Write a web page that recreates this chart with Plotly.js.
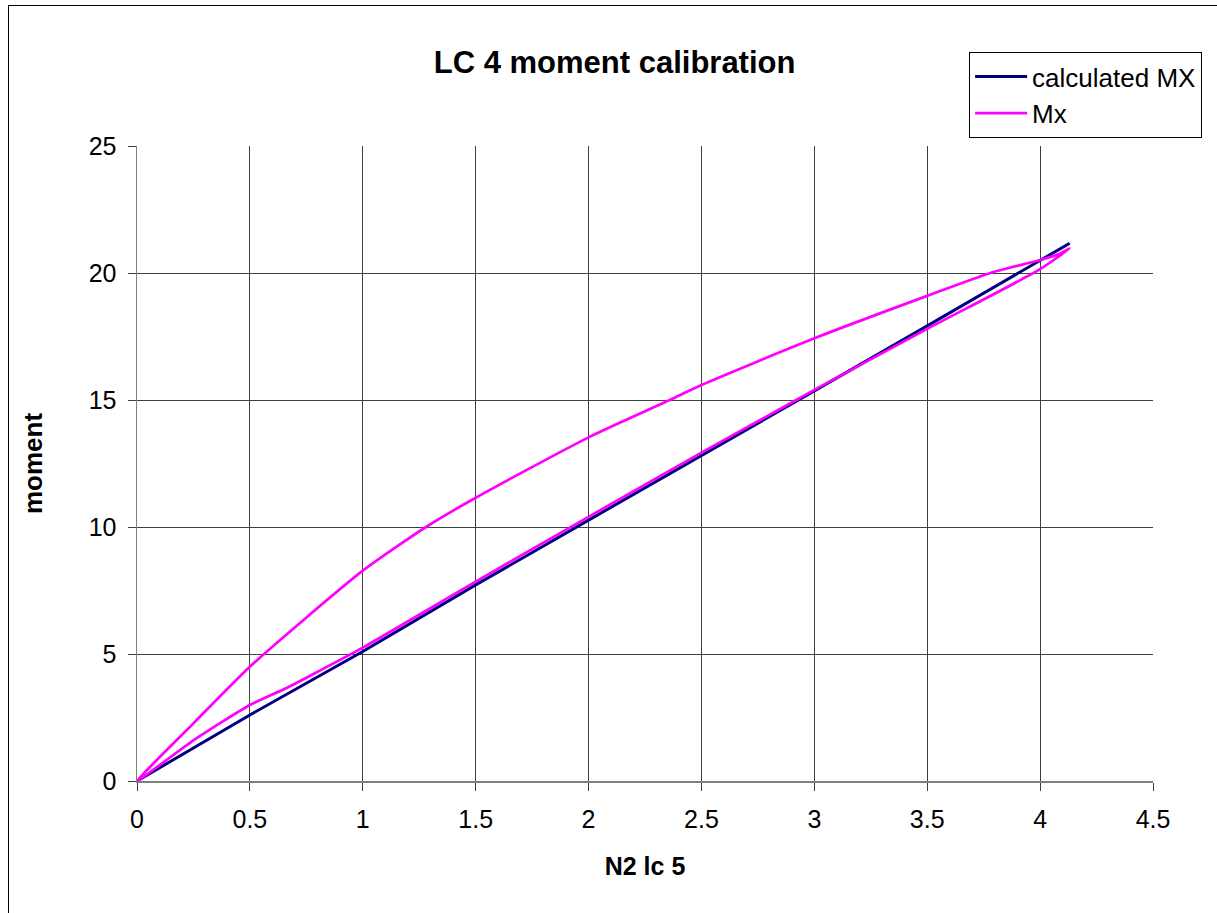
<!DOCTYPE html>
<html>
<head>
<meta charset="utf-8">
<script src="https://cdn.plot.ly/plotly-3.0.1.min.js"></script>
<style>
  html, body { margin: 0; padding: 0; background: #fff; overflow: hidden; }
  #wrap { position: relative; width: 1217px; height: 913px; }
  #chart { position: absolute; left: 0; top: 0; width: 1217px; height: 913px; }
  #frame { position: absolute; left: 8px; top: 5px; width: 1300px; height: 1000px;
           border-left: 1px solid #000; border-top: 1px solid #000; pointer-events: none; }
</style>
</head>
<body>
<div id="wrap">
  <div id="chart"></div>
  <div id="frame"></div>
</div>
<script>
// ---- data ----
const chartTitle = "LC 4 moment calibration";
const xTitle = "N2 lc 5";
const yTitle = "moment";

// calculated MX (straight calibration line)
const calcX = [0, 0.5, 1.0, 1.5, 2.0, 2.5, 3.0, 3.5, 4.0, 4.131];
const calcY = [0, 2.6, 5.1, 7.72, 10.27, 12.8, 15.36, 17.92, 20.5, 21.17];

// Mx measured (loading branch then unloading branch)
const mxX = [0, 0.25, 0.5, 0.66, 0.8, 1.0, 1.5, 2.0, 2.5, 2.92, 3.0, 3.5, 4.0, 4.131,
             4.09, 4.0, 3.78, 3.5, 3.0, 2.5, 2.36, 2.0, 1.5, 1.28, 1.0, 0.5, 0.25, 0];
const mxY = [0, 1.6, 2.99, 3.65, 4.3, 5.25, 7.85, 10.4, 12.93, 15.0, 15.4, 17.8, 20.15, 20.97,
             20.77, 20.51, 20.0, 19.1, 17.43, 15.59, 15.0, 13.53, 11.15, 10.0, 8.28, 4.5, 2.27, 0];

const xTicks = [0, 0.5, 1, 1.5, 2, 2.5, 3, 3.5, 4, 4.5];
const yTicks = [0, 5, 10, 15, 20, 25];

const FONT = "Arial, 'Liberation Sans', sans-serif";

const traces = [
  {
    x: calcX, y: calcY, name: "calculated MX", type: "scatter", mode: "lines",
    line: { color: "#000080", width: 3 }
  },
  {
    x: mxX, y: mxY, name: "Mx", type: "scatter", mode: "lines",
    line: { color: "#ff00ff", width: 2.7, shape: "spline", smoothing: 0.6 }
  }
];

const layout = {
  width: 1217, height: 913,
  paper_bgcolor: "#ffffff", plot_bgcolor: "#ffffff",
  margin: { l: 137, r: 64, t: 146, b: 132, pad: 0 },
  font: { family: FONT, color: "#000", size: 25 },
  title: {
    text: "<b>" + chartTitle + "</b>",
    font: { family: FONT, size: 31, color: "#000" },
    x: 0.505, xanchor: "center", xref: "container",
    y: 0.932, yanchor: "middle", yref: "container"
  },
  xaxis: {
    range: [0, 4.5], tickvals: xTicks, ticktext: xTicks.map(String),
    showgrid: true, gridcolor: "#404040", gridwidth: 1,
    showline: true, linecolor: "#808080", linewidth: 1.5,
    ticks: "outside", ticklen: 8, tickcolor: "#404040",
    ticklabelstandoff: 7,
    tickfont: { family: FONT, size: 25, color: "#000" },
    zeroline: false, mirror: false,
    title: { text: "<b>" + xTitle + "</b>", font: { family: FONT, size: 25, color: "#000" }, standoff: 26 }
  },
  yaxis: {
    range: [0, 25], tickvals: yTicks, ticktext: yTicks.map(String),
    showgrid: true, gridcolor: "#404040", gridwidth: 1,
    showline: true, linecolor: "#808080", linewidth: 1.5,
    ticks: "outside", ticklen: 8, tickcolor: "#404040",
    ticklabelstandoff: 6,
    tickfont: { family: FONT, size: 25, color: "#000" },
    zeroline: false, mirror: false,
    title: { text: "<b>" + yTitle + "</b>", font: { family: FONT, size: 26, color: "#000" }, standoff: 38 }
  },
  showlegend: true,
  legend: {
    x: 0.819, y: 1.148, xanchor: "left", yanchor: "top",
    bgcolor: "#ffffff", bordercolor: "#000000", borderwidth: 1,
    font: { family: FONT, size: 26, color: "#000" },
    itemwidth: 52
  }
};

Plotly.newPlot("chart", traces, layout, { displayModeBar: false, staticPlot: true });
</script>
</body>
</html>
